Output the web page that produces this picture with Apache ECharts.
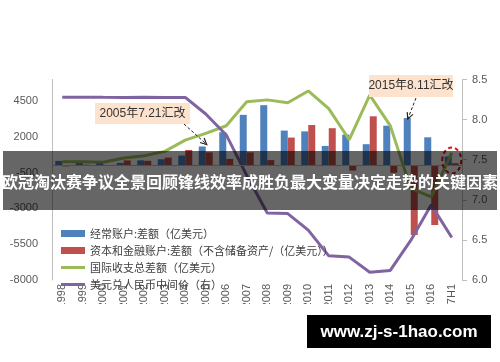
<!DOCTYPE html>
<html><head><meta charset="utf-8">
<script src="https://cdn.jsdelivr.net/npm/echarts@6/dist/echarts.min.js"></script>
<style>html,body{margin:0;padding:0;background:#fff}#c{width:500px;height:362px}</style>
</head><body><div id="c"></div>
<script>
const categories = ['1998','1999','2000','2001','2002','2003','2004','2005','2006','2007','2008','2009','2010','2011','2012','2013','2014','2015','2016','2017H1'];
const currentAccount = [315,211,205,174,354,431,689,1324,2318,3532,4206,2433,2378,1361,2154,1482,2774,3306,1964,620];
const capitalFinancial = [-63,52,20,348,323,549,1082,912,453,911,371,1945,2822,2600,-360,3430,-514,-4856,-4161,150];
const overallBalance = [252,263,225,522,677,980,1771,2236,2771,4443,4577,4378,5200,3961,1794,4912,2780,-1600,-2197,880];
const exchangeRate = [8.2791,8.2795,8.2774,8.2766,8.2773,8.2767,8.2765,8.0702,7.8087,7.3046,6.8346,6.8282,6.6227,6.3009,6.2855,6.0969,6.1190,6.4936,6.9370,6.53];
const seriesNames = ['经常账户:差额（亿美元）','资本和金融账户:差额（不含储备资产/（亿美元））','国际收支总差额（亿美元）','美元兑人民币中间价（右）'];
const note1 = '2005年7.21汇改';
const note2 = '2015年8.11汇改';
const bannerText = '欧冠淘汰赛争议全景回顾锋线效率成胜负最大变量决定走势的关键因素';
const watermark = 'www.zj-s-1hao.com';

const CJK = '"Noto Sans CJK SC","Liberation Sans",sans-serif';
const LAT = '"Liberation Sans","Noto Sans CJK SC",sans-serif';
const LINE_ICON = 'path://M0,0M24,7M0,2H24V5H0Z';
const chart = echarts.init(document.getElementById('c'));
chart.setOption({
  animation:false,
  textStyle:{fontFamily:LAT},
  grid:{left:52,right:38,top:79.5,bottom:82,containLabel:false},
  legend:{orient:'vertical',left:56,top:221,itemWidth:24,itemHeight:7,itemGap:2,
    textStyle:{fontSize:11,color:'#404040',fontFamily:CJK,lineHeight:15},
    data:[{name:seriesNames[0],icon:'rect'},{name:seriesNames[1],icon:'rect'},
          {name:seriesNames[2],icon:LINE_ICON},{name:seriesNames[3],icon:LINE_ICON}]},
  xAxis:{type:'category',data:categories,axisLine:{show:false},axisTick:{show:false},
    axisLabel:{rotate:90,fontSize:11,color:'#595959',margin:4,interval:0,fontFamily:LAT}},
  yAxis:[
    {type:'value',min:-8000,max:6000,interval:2500,
     axisLine:{show:true,lineStyle:{color:'#bfbfbf',width:1}},axisTick:{show:false},splitLine:{show:false},
     axisLabel:{showMaxLabel:false,formatter:v=>String(v),fontSize:11,color:'#595959',margin:14}},
    {type:'value',min:6,max:8.5,interval:0.5,position:'right',
     axisLine:{show:true,lineStyle:{color:'#bfbfbf',width:1}},axisTick:{show:true,length:5,lineStyle:{color:'#bfbfbf'}},splitLine:{show:false},
     axisLabel:{formatter:v=>v.toFixed(1),fontSize:11,color:'#595959',margin:10}}
  ],
  series:[
    {name:seriesNames[0],type:'bar',data:currentAccount,barWidth:7,barGap:'0%',itemStyle:{color:'#4f81bd'},
     markLine:{silent:true,symbol:'none',label:{show:false},lineStyle:{color:'#bfbfbf',type:'solid',width:1},data:[{yAxis:0}]}},
    {name:seriesNames[1],type:'bar',data:capitalFinancial,barWidth:7,barGap:'0%',itemStyle:{color:'#c0504d'}},
    {name:seriesNames[2],type:'line',data:overallBalance,symbol:'none',lineStyle:{color:'#9bbb59',width:3},itemStyle:{color:'#9bbb59'}},
    {name:seriesNames[3],type:'line',yAxisIndex:1,data:exchangeRate,symbol:'none',lineStyle:{color:'#8064a2',width:3},itemStyle:{color:'#8064a2'}}
  ]
});

function px(cat, v){ return chart.convertToPixel({xAxisIndex:0,yAxisIndex:0},[cat,v]); }
function arrow(s, e){
  const a = Math.atan2(e[1]-s[1], e[0]-s[0]), L = 7, w = 0.45;
  const p1 = [e[0]-L*Math.cos(a-w), e[1]-L*Math.sin(a-w)];
  const p2 = [e[0]-L*Math.cos(a+w), e[1]-L*Math.sin(a+w)];
  return [
    {type:'line',z:50,shape:{x1:s[0],y1:s[1],x2:e[0],y2:e[1]},style:{stroke:'#222',lineWidth:1,lineDash:[3,2]}},
    {type:'polyline',z:50,shape:{points:[p1,e,p2]},style:{stroke:'#222',lineWidth:1.2,fill:null}}
  ];
}
const i05 = categories.indexOf('2005'), i15 = categories.indexOf('2015'), iH1 = categories.length-1;
const e1 = px(categories[i05], currentAccount[i05]);
const e2 = px(categories[i15], currentAccount[i15]);
const eH = px(categories[iH1], 0);
const g = [];
g.push({type:'rect',z:50,shape:{x:95,y:103,width:95,height:21},style:{fill:'#fde3cd'}});
g.push({type:'text',z:51,style:{text:note1,x:142.5,y:113.5,fill:'#333',font:'12px '+LAT,align:'center',verticalAlign:'middle'}});
g.push(...arrow([184,124],[e1[0]+1,e1[1]-2]));
g.push({type:'rect',z:50,shape:{x:369,y:75,width:84,height:22},style:{fill:'#fde3cd'}});
g.push({type:'text',z:51,style:{text:note2,x:411,y:86,fill:'#333',font:'12px '+LAT,align:'center',verticalAlign:'middle'}});
g.push(...arrow([416,98],[e2[0]-3,e2[1]+1]));
g.push({type:'ellipse',z:50,shape:{cx:eH[0],cy:eH[1]-5,rx:9.5,ry:13},style:{stroke:'#e01010',lineWidth:2,lineDash:[4,3],fill:null}});
g.push({type:'rect',z:60,shape:{x:3,y:151,width:494,height:59},style:{fill:'rgba(0,0,0,0.6)'}});
g.push({type:'text',z:61,style:{text:bannerText,x:250,y:182,fill:'#fff',font:'bold 16px '+CJK,align:'center',verticalAlign:'middle'}});
g.push({type:'rect',z:62,shape:{x:0,y:304,width:500,height:58},style:{fill:'#fff'}});
g.push({type:'rect',z:63,shape:{x:307,y:315,width:184,height:33},style:{fill:'#000'}});
g.push({type:'text',z:64,style:{text:watermark,x:399,y:332,fill:'#fff',font:'bold 17px '+LAT,align:'center',verticalAlign:'middle'}});
chart.setOption({graphic:g});
</script></body></html>
